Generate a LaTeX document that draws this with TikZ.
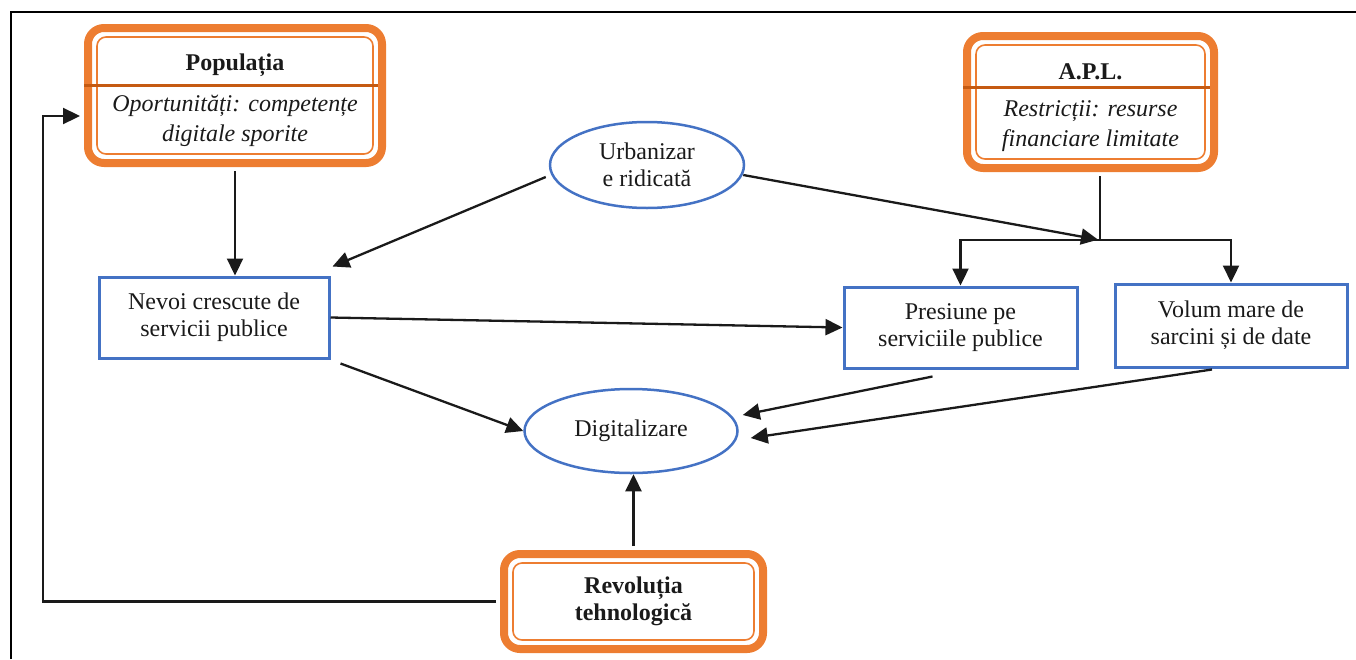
\documentclass[tikz,border=0pt]{standalone}
\usepackage{fontspec}
\setmainfont{Liberation Serif}
\usetikzlibrary{arrows.meta,shapes.geometric}
\definecolor{orng}{HTML}{ED7D31}
\definecolor{orngdark}{HTML}{C55A11}
\definecolor{bleu}{HTML}{4472C4}
\definecolor{ink}{HTML}{1A1A1A}
\begin{document}
\begin{tikzpicture}[x=1pt,y=-1pt,
  every node/.style={font=\fontsize{24}{27}\selectfont, text=ink, inner sep=0pt, align=center},
  bluebox/.style={draw=bleu, line width=3pt, rectangle},
  oval/.style={draw=bleu, line width=2.5pt, ellipse},
  obox/.style={draw=orng, line width=8pt, rounded corners=16pt, rectangle,
    path picture={\draw[orng, line width=1.6pt, rounded corners=9pt]
      ([shift={(9pt,-9pt)}]path picture bounding box.north west) rectangle
      ([shift={(-9pt,9pt)}]path picture bounding box.south east);}},
  divider/.style={draw=orngdark, line width=3pt},
  arr/.style={draw=ink, line width=2.3pt, -{Triangle[length=17pt,width=16pt]}},
  link/.style={draw=ink, line width=2.3pt},
  frame/.style={draw=black, line width=2.5pt}]
\useasboundingbox (0,0) rectangle (1356,659);
\draw[frame] (11,659) -- (11,12) -- (1356,12);

% orange boxes
\node[obox, minimum width=294pt, minimum height=135pt, font=\fontsize{24}{30}\selectfont] (pop) at (235,95.5)
  {\rule{0pt}{26pt}\textbf{Populația}\\[11pt]\textit{Oportunități: competențe}\\\textit{digitale sporite}};
\node[obox, minimum width=247pt, minimum height=132pt, font=\fontsize{24}{30}\selectfont] (apl) at (1090.5,102)
  {\rule{0pt}{27pt}\textbf{A.P.L.}\\[7pt]\textit{Restricții: resurse}\\\textit{financiare limitate}};
\node[obox, minimum width=259pt, minimum height=95pt] (rev) at (633.5,601.5)
  {\textbf{Revoluția}\\\textbf{tehnologică}};
\draw[divider] (pop.west) ++(0,-10.5) -- ++(294,0);
\draw[divider] (apl.west) ++(0,-15) -- ++(247,0);

% ellipses
\node[oval, minimum width=194pt, minimum height=86pt] (urb) at (647,165) {Urbanizar\\e ridicată};
\node[oval, minimum width=213pt, minimum height=84pt] (dig) at (631,431) {Digitalizare};

% blue boxes
\node[bluebox, minimum width=230pt, minimum height=81pt] (nev) at (214,317.5) {Nevoi crescute de\\servicii publice};
\node[bluebox, minimum width=233pt, minimum height=81pt] (pres) at (960.5,327.5) {Presiune pe\\serviciile publice};
\node[bluebox, minimum width=232pt, minimum height=83pt] (vol) at (1231,325.5) {Volum mare de\\sarcini și de date};

% connectors
\coordinate (j) at (1100,240);
\coordinate (lf) at (43,116);
\draw[arr, shorten <=4pt] (pop.south) -- (pop.south |- nev.north);
\draw[arr] ([shift={(-3pt,-12pt)}]urb.west) -- ([shift={(2pt,9pt)}]nev.north east);
\draw[arr, shorten >=2pt] ([shift={(-2pt,-10pt)}]urb.east) -- (j);
\draw[link, shorten <=4pt] (apl.south -| j) -- (j);
\draw[arr] (j) -| (pres.north);
\draw[arr] (j) -| (vol.north);
\draw[arr] (nev.east) -- (pres.west);
\draw[arr] ([shift={(10pt,-4pt)}]nev.south east) -- (dig.west);
\draw[arr] ([shift={(-28pt,-7pt)}]pres.south) -- ([shift={(4pt,16pt)}]dig.east);
\draw[arr] ([shift={(-19pt,-1pt)}]vol.south) -- ([shift={(12pt,-7pt)}]dig.east);
\draw[arr, shorten <=4pt] (rev.north) -- (rev.north |- dig.south);
\draw[arr, shorten <=4pt, shorten >=4pt] (rev.west) -| (lf) -- (pop.west |- lf);
\end{tikzpicture}
\end{document}
